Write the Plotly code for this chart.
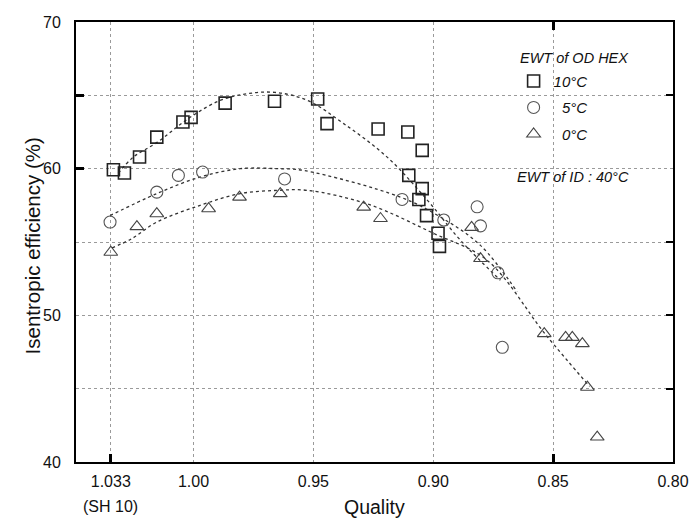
import plotly.graph_objects as go

FONT = "Liberation Sans, Arial, sans-serif"

# ---- measured data (Quality vs isentropic efficiency) ----
sq_name = "<i>10°C</i>"
sq_x = [1.0334, 1.0288, 1.0225, 1.0153, 1.0044, 1.001, 0.9868, 0.9662, 0.9482,
        0.9443, 0.9230, 0.9106, 0.9046, 0.9102, 0.9046, 0.9060, 0.9028, 0.8980, 0.8974]
sq_y = [59.93, 59.70, 60.80, 62.15, 63.18, 63.50, 64.47, 64.60, 64.75,
        63.07, 62.70, 62.50, 61.25, 59.54, 58.64, 57.90, 56.80, 55.60, 54.70]

ci_name = "<i>\u20075°C</i>"
ci_x = [1.0348, 1.0153, 1.0063, 0.9962, 0.9620, 0.9130, 0.8956, 0.8817, 0.8803, 0.8730, 0.8712]
ci_y = [56.36, 58.40, 59.54, 59.77, 59.30, 57.90, 56.50, 57.40, 56.10, 52.90, 47.82]

tr_name = "<i>\u20070°C</i>"
tr_x = [1.0345, 1.0236, 1.0153, 0.9937, 0.9808, 0.9638, 0.9290, 0.9220, 0.8840,
        0.8803, 0.8537, 0.8448, 0.8420, 0.8378, 0.8357, 0.8316]
tr_y = [54.30, 56.05, 56.93, 57.27, 58.06, 58.30, 57.38, 56.60, 56.00,
        53.87, 48.75, 48.50, 48.50, 48.07, 45.10, 41.70]

# ---- fitted trend curves ----
sq_fit_x = [1.0314, 1.0252, 1.0152, 1.0014, 0.9889, 0.9776, 0.9660, 0.9524, 0.9375,
            0.9191, 0.9024, 0.8886, 0.8720]
sq_fit_y = [59.68, 60.77, 61.79, 63.50, 64.65, 65.11, 65.20, 64.65, 63.09,
            60.77, 57.84, 55.11, 52.39]
ci_fit_x = [1.0348, 1.0153, 0.9972, 0.9805, 0.9650, 0.9542, 0.9137, 0.8970, 0.8803, 0.8650]
ci_fit_y = [56.80, 58.30, 59.43, 60.00, 60.00, 59.88, 58.06, 56.70, 54.77, 51.60]
tr_fit_x = [1.0340, 1.0257, 1.0153, 0.9972, 0.9805, 0.9650, 0.9525, 0.9276, 0.9000,
            0.8775, 0.8532, 0.8348]
tr_fit_y = [54.60, 55.23, 56.36, 57.50, 58.30, 58.52, 58.52, 57.60, 55.60,
            53.75, 48.70, 45.16]

x_tickvals = [1.0345, 1.00, 0.95, 0.90, 0.85, 0.80]
x_ticktext = ["1.033", "1.00", "0.95", "0.90", "0.85", "0.80"]
y_tickvals = [40, 50, 60, 70]
x_range = [1.049, 0.80]
y_range = [40, 70]

fig = go.Figure()

fit_line = dict(color="#333333", width=1.3, dash="dot")
for fx, fy in [(sq_fit_x, sq_fit_y), (ci_fit_x, ci_fit_y), (tr_fit_x, tr_fit_y)]:
    fig.add_trace(go.Scatter(x=fx, y=fy, mode="lines", line=fit_line,
                             line_shape="spline", showlegend=False, hoverinfo="skip"))

fig.add_trace(go.Scatter(x=sq_x, y=sq_y, mode="markers", name=sq_name, legendgroup="a",
                         marker=dict(symbol="square-open", size=12, color="#222222",
                                     line=dict(width=1.6, color="#222222"))))
fig.add_trace(go.Scatter(x=ci_x, y=ci_y, mode="markers", name=ci_name, legendgroup="b",
                         marker=dict(symbol="circle-open", size=12, color="#555555",
                                     line=dict(width=1.1, color="#555555"))))
fig.add_trace(go.Scatter(x=tr_x, y=tr_y, mode="markers", name=tr_name, legendgroup="c",
                         marker=dict(symbol="triangle-up-open", size=12, color="#444444",
                                     line=dict(width=1.1, color="#444444"))))

grid = dict(showgrid=True, gridcolor="#9a9a9a", gridwidth=1, griddash="dot")
tickaxis = dict(showticklabels=False, tickcolor="black", showgrid=False,
                zeroline=False, showline=False, automargin=False)

fig.update_layout(
    width=689, height=521,
    margin=dict(l=76, r=16, t=22, b=59, autoexpand=False),
    paper_bgcolor="white", plot_bgcolor="white",
    font=dict(family=FONT, color="#111111"),
    xaxis=dict(range=x_range, tickvals=x_tickvals, ticktext=x_ticktext,
               tickfont=dict(size=16, family=FONT), ticks="", ticklabelstandoff=4,
               showline=True, linecolor="black", linewidth=2, mirror=True,
               zeroline=False, automargin=False, **grid),
    yaxis=dict(range=y_range, tickvals=y_tickvals,
               tickfont=dict(size=16, family=FONT), ticks="", ticklabelstandoff=10,
               showline=True, linecolor="black", linewidth=2, mirror=True,
               zeroline=False, automargin=False, showgrid=False),
    # extra axes: y grid at 5-unit steps and the few inside tick marks
    yaxis2=dict(range=y_range, overlaying="y", tickvals=[45, 50, 55, 60, 65],
                showticklabels=False, ticks="", showline=False, zeroline=False,
                automargin=False, **grid),
    xaxis2=dict(range=x_range, overlaying="x", side="bottom", tickvals=[1.0345, 0.85],
                ticks="inside", ticklen=8, tickwidth=2.5, **tickaxis),
    xaxis3=dict(range=x_range, overlaying="x", side="top", tickvals=[0.85],
                ticks="inside", ticklen=8, tickwidth=2.5, **tickaxis),
    yaxis3=dict(range=y_range, overlaying="y", side="left", tickvals=[60, 65],
                ticks="inside", ticklen=8, tickwidth=2.5, **tickaxis),
    yaxis4=dict(range=y_range, overlaying="y", side="right", tickvals=[45, 50, 55, 65],
                ticks="inside", ticklen=7, tickwidth=2, **tickaxis),
    legend=dict(x=0.733, y=0.903, xanchor="left", yanchor="top",
                bgcolor="rgba(0,0,0,0)", traceorder="grouped", tracegroupgap=4,
                font=dict(size=15, family=FONT, color="#111111"),
                itemsizing="trace"),
    showlegend=True,
)

# helper traces to activate the extra axes (no visible marks)
fig.add_trace(go.Scatter(x=[None], y=[None], xaxis="x2", yaxis="y2", showlegend=False))
fig.add_trace(go.Scatter(x=[None], y=[None], xaxis="x3", yaxis="y3", showlegend=False))
fig.add_trace(go.Scatter(x=[None], y=[None], xaxis="x2", yaxis="y4", showlegend=False))

txt = dict(size=14.5, family=FONT, color="#111111")
fig.add_annotation(text="<i>EWT of OD HEX</i>", xref="paper", yref="paper",
                   x=0.835, y=0.918, xanchor="center", yanchor="middle",
                   showarrow=False, font=txt)
fig.add_annotation(text="<i>EWT of ID : 40°C</i>", xref="paper", yref="paper",
                   x=0.833, y=0.647, xanchor="center", yanchor="middle",
                   showarrow=False, font=txt)
fig.add_annotation(text="(SH 10)", x=1.0345, xref="x", y=-0.10, yref="paper",
                   xanchor="center", yanchor="middle", showarrow=False,
                   font=dict(size=16, family=FONT, color="#111111"))
# axis titles
fig.add_annotation(text="Quality", xref="paper", yref="paper", x=0.5, y=-0.132,
                   xanchor="center", yanchor="bottom", showarrow=False,
                   font=dict(size=19.5, family=FONT, color="#111111"))
fig.add_annotation(text="Isentropic efficiency (%)", xref="paper", yref="paper",
                   x=-0.0737, y=0.49, xanchor="center", yanchor="middle",
                   textangle=-90, showarrow=False,
                   font=dict(size=20.5, family=FONT, color="#111111"))

fig.write_html("out.html")
